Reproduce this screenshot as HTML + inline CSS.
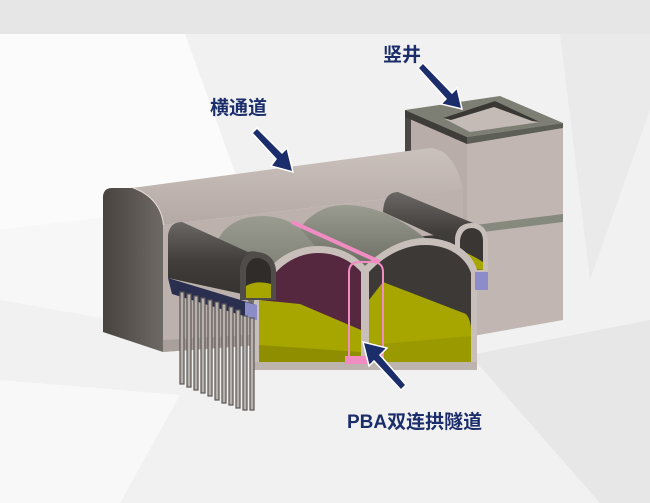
<!DOCTYPE html>
<html><head><meta charset="utf-8"><style>
html,body{margin:0;padding:0;width:650px;height:503px;overflow:hidden;background:#f2f2f2}
svg{display:block}
text{font-family:"Liberation Sans","Noto Sans CJK SC",sans-serif;font-weight:bold;fill:#1b2d6b}
</style></head><body>
<svg width="650" height="503" viewBox="0 0 650 503">
<defs>
<linearGradient id="cap" x1="0" x2="1" y1="0" y2="0"><stop offset="0" stop-color="#47433f"/><stop offset="1" stop-color="#6e6965"/></linearGradient>
<linearGradient id="tube" x1="0" y1="0" x2="0" y2="1"><stop offset="0" stop-color="#6a6764"/><stop offset="0.5" stop-color="#403d3a"/><stop offset="1" stop-color="#34312f"/></linearGradient>
<linearGradient id="vault" x1="0" y1="0" x2="0" y2="1"><stop offset="0" stop-color="#9a9c92"/><stop offset="1" stop-color="#6c6e64"/></linearGradient>
<linearGradient id="top" x1="0" y1="0" x2="0" y2="1"><stop offset="0" stop-color="#cbc1bc"/><stop offset="1" stop-color="#b4a9a4"/></linearGradient>
</defs>
<!-- background -->
<rect width="650" height="503" fill="#f1f1f1"/>
<rect width="650" height="34" fill="#e6e6e6"/>
<polygon points="0,34 185,34 245,200 0,230" fill="#fbfbfb"/>
<polygon points="0,230 245,200 170,330 0,300" fill="#f7f7f7"/>
<polygon points="560,34 650,34 650,110 590,280" fill="#eaeaea"/>
<polygon points="470,355 650,320 650,503 600,503" fill="#e7e7e7"/>
<polygon points="0,380 180,395 120,503 0,503" fill="#f8f8f8"/>

<!-- shaft -->
<polygon points="405,110 467,137 467,337 405,320" fill="#b8ada9"/>
<polygon points="405,110 411,113 411,322 405,320" fill="#4a4744"/>
<polygon points="467,137 563,123 563,320 467,337" fill="#c1b6b2"/>
<polygon points="467,226 563,214 563,222 467,234" fill="#868a7e"/>
<polygon points="405,110 500,96 563,123 467,137" fill="#7d7f74"/>
<polygon points="405,110 467,137 467,144 405,117" fill="#3f3d3a"/>
<polygon points="467,137 563,123 563,128 467,144" fill="#5d5f56"/>
<polygon points="443,118 495,101 540,122 470,132" fill="#c5bbb6"/>
<polygon points="443,118 495,101 540,122 532,121 494,107 451,120" fill="#3a3835"/>

<!-- passage -->
<path d="M163,225 L463,190 L463,330 L163,352 Z" fill="#bcb1ad"/>
<path d="M163,340 L463,322 L463,330 L163,352 Z" fill="#a9a09b"/>
<path d="M132,188 L430,148 Q455,150 463,190 L163,225 Q160,198 132,188 Z" fill="url(#top)"/>
<path d="M132,188 Q160,198 163,225" fill="none" stroke="#e8ddd8" stroke-width="2"/>
<path d="M103,196 Q104,188 112,188 L132,188 Q160,198 163,225 L163,352 L103,332 Z" fill="url(#cap)"/>

<!-- right piles -->
<g fill="#b3aba7" stroke="#5c5855" stroke-width="1">
<rect x="420" y="338" width="4" height="18"/><rect x="427" y="338" width="4" height="20"/><rect x="434" y="338" width="4" height="22"/><rect x="441" y="338" width="4" height="24"/><rect x="448" y="338" width="4" height="26"/><rect x="455" y="338" width="4" height="28"/><rect x="462" y="338" width="4" height="29"/>
</g>

<!-- dark area behind right arch -->
<polygon points="380,240 470,232 478,272 380,270" fill="#3c3936"/>
<!-- right dark tube -->
<path d="M383,212 Q384,192 398,192 L473,223 L488,240 L488,272 L455,272 L455,245 Z" fill="url(#tube)"/>
<path d="M455,272 L455,238 Q457,223 472,223 Q487,224 488,240 L488,272 Z" fill="#c8bfbb"/>
<path d="M460,270 L460,240 Q462,228 472,228 Q483,229 483,241 L483,270 Z" fill="#393634"/>
<path d="M460,250 Q472,255 483,262 L483,270 L460,268 Z" fill="#a8a600"/>
<!-- vaults -->
<path d="M214,252 C218,228 238,216 262,216 C290,216 308,232 318,248 L253,308 Z" fill="url(#vault)"/>
<path d="M300,228 C312,212 328,205 345,205 C378,205 405,222 425,238 L365,267 L315,246 Z" fill="url(#vault)"/>

<!-- PBA section -->
<path d="M253,368 L253,308 C258,265 290,246 318,246 C340,246 356,256 365,266 C382,250 402,238 425,238 C452,238 472,252 477,270 L477,368 Z" fill="#c8bfbb"/>
<path d="M259,362 L259,310 C264,273 292,253 318,253 C338,253 352,262 361,272 L361,362 Z" fill="#55283f"/>
<path d="M369,362 L369,272 C384,256 404,245 425,245 C450,245 466,258 471,273 L471,362 Z" fill="#3c3936"/>
<path d="M259,300 L300,304 L361,330 L361,362 L259,362 Z" fill="#a7a600"/>
<path d="M369,300 L383,282 L466,314 Q471,320 471,330 L471,362 L369,362 Z" fill="#a7a600"/>
<path d="M259,345 L361,352 L361,362 L259,362 Z" fill="#8f8e00"/>
<path d="M369,345 L471,336 L471,362 L369,362 Z" fill="#9a9900"/>
<rect x="361" y="268" width="8" height="94" fill="#c8bfbb"/>
<rect x="253" y="362" width="224" height="8" fill="#bdb4b0"/>

<!-- pink -->
<path d="M292,222 L380,262" stroke="#f08cc2" stroke-width="4"/>
<path d="M349,358 L349,272 Q349,262 360,262 L372,262 Q383,262 383,272 L383,358 Z" fill="none" stroke="#f08cc2" stroke-width="2"/>
<rect x="345" y="356" width="25" height="8" fill="#f08cc2"/>

<!-- left tube -->
<path d="M168,235 Q170,222 182,222 L248,252 Q258,250 262,255 L270,300 L168,278 Z" fill="url(#tube)"/>
<path d="M240,300 L240,268 Q242,252 258,252 Q274,254 276,270 L276,300 Z" fill="#504c49"/>
<path d="M246,298 L246,270 Q248,258 258,258 Q270,260 271,272 L271,298 Z" fill="#2f2c2a"/>
<path d="M246,286 Q255,280 271,284 L271,298 L246,298 Z" fill="#a7a600"/>
<polygon points="168,278 257,305 257,320 172,294" fill="#2b2f4f"/>
<polygon points="245,302 257,305 257,320 245,316" fill="#8c8cc8"/>
<polygon points="475,272 488,272 488,290 475,290" fill="#8c8cc8"/>

<!-- left piles -->
<g fill="#b8b0ac" stroke="#5a5653" stroke-width="1.2">
<rect x="180" y="292" width="4" height="92"/><rect x="187" y="294" width="4" height="93"/><rect x="194" y="296" width="4" height="94"/><rect x="201" y="298" width="4" height="95"/><rect x="208" y="300" width="4" height="96"/><rect x="215" y="302" width="4" height="98"/><rect x="222" y="304" width="4" height="99"/><rect x="229" y="307" width="4" height="98"/><rect x="236" y="310" width="4" height="98"/><rect x="243" y="316" width="4" height="94"/><rect x="250" y="318" width="4" height="92"/>
</g>

<!-- arrows -->
<g stroke="#ffffff" stroke-width="1.5" fill="#1b2d6b">
<polygon points="418,68 423,63 452,93 457,88 462,109 441,104 446,99"/>
<polygon points="252,133 257,128 282,153 287,148 293,172 271,166 276,159"/>
<polygon points="406,385 401,390 374,361 369,366 363,342 387,348 380,355"/>
</g>

<text x="383" y="61" font-size="19">竖井</text>
<text x="210" y="114" font-size="19">横通道</text>
<text x="347" y="428" font-size="19">PBA双连拱隧道</text>
</svg>
</body></html>
